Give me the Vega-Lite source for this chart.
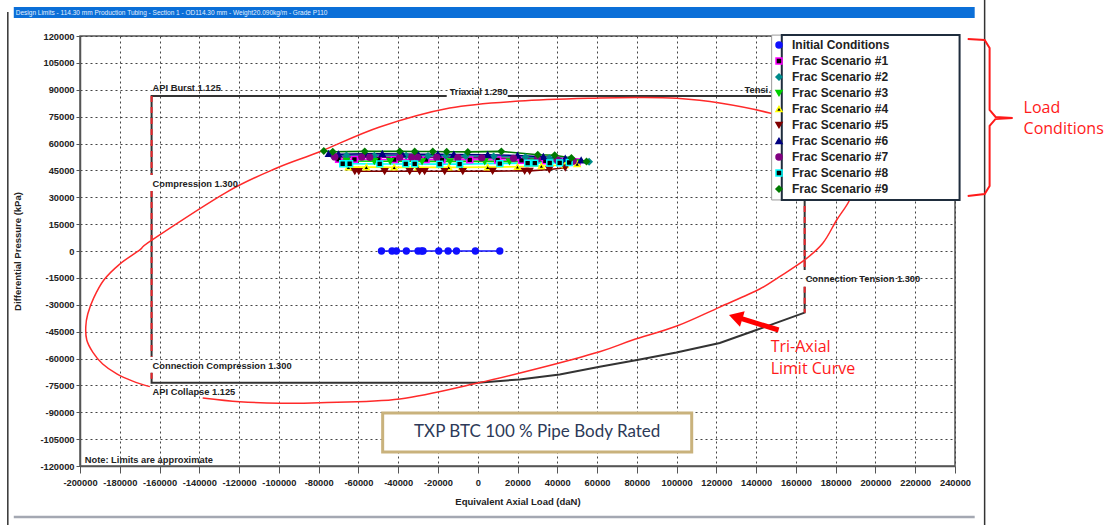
{
"$schema": "https://vega.github.io/schema/vega-lite/v6.json",
"width": 875, "height": 430,
"autosize": {"type": "none"},
"padding": {"left": 80, "top": 36, "right": 160, "bottom": 59},
"background": "white",
"config": {
  "view": {"stroke": "#555555", "strokeWidth": 1.5},
  "axis": {"labelFont": "Liberation Sans", "labelFontWeight": "bold", "labelFontSize": 9.3, "labelColor": "#222222",
           "titleFont": "Liberation Sans", "titleFontWeight": "bold", "titleFontSize": 9.5, "titleColor": "#222222",
           "gridColor": "#444444", "gridDash": [2, 3], "gridWidth": 1, "domainColor": "#555555", "domainWidth": 1.5, "tickColor": "#555555", "tickWidth": 1},
  "legend": {"labelFont": "Liberation Sans", "labelFontWeight": "bold", "labelFontSize": 12,
             "labelColor": "#222222", "labelOffset": 7, "rowPadding": 4, "symbolSize": 36, "symbolStrokeWidth": 1.5}
},
"datasets": {
  "pts": [
    {"s":"Initial Conditions","x":-48400,"y":0},{"s":"Initial Conditions","x":-43100,"y":0},{"s":"Initial Conditions","x":-40900,"y":0},{"s":"Initial Conditions","x":-35900,"y":0},{"s":"Initial Conditions","x":-30000,"y":0},{"s":"Initial Conditions","x":-28300,"y":0},{"s":"Initial Conditions","x":-27500,"y":0},{"s":"Initial Conditions","x":-19600,"y":0},{"s":"Initial Conditions","x":-14900,"y":0},{"s":"Initial Conditions","x":-10700,"y":0},{"s":"Initial Conditions","x":-1200,"y":0},{"s":"Initial Conditions","x":11100,"y":0},
    {"s":"Frac Scenario #1","x":-70000,"y":51200},{"s":"Frac Scenario #1","x":-62000,"y":51100},{"s":"Frac Scenario #1","x":-50000,"y":51100},{"s":"Frac Scenario #1","x":-42000,"y":51000},{"s":"Frac Scenario #1","x":-26000,"y":51000},{"s":"Frac Scenario #1","x":-18000,"y":50900},{"s":"Frac Scenario #1","x":-4000,"y":50900},{"s":"Frac Scenario #1","x":10000,"y":50800},{"s":"Frac Scenario #1","x":22000,"y":50600},{"s":"Frac Scenario #1","x":34000,"y":50300},{"s":"Frac Scenario #1","x":44000,"y":50000},{"s":"Frac Scenario #1","x":50000,"y":49700},
    {"s":"Frac Scenario #2","x":-73000,"y":53300},{"s":"Frac Scenario #2","x":-66000,"y":53300},{"s":"Frac Scenario #2","x":-52000,"y":53200},{"s":"Frac Scenario #2","x":-36000,"y":53200},{"s":"Frac Scenario #2","x":-25000,"y":53100},{"s":"Frac Scenario #2","x":-16000,"y":53100},{"s":"Frac Scenario #2","x":-6000,"y":53000},{"s":"Frac Scenario #2","x":8000,"y":52800},{"s":"Frac Scenario #2","x":24000,"y":52400},{"s":"Frac Scenario #2","x":36000,"y":51800},{"s":"Frac Scenario #2","x":46000,"y":51000},{"s":"Frac Scenario #2","x":56000,"y":49800},
    {"s":"Frac Scenario #3","x":-66000,"y":50200},{"s":"Frac Scenario #3","x":-52000,"y":50100},{"s":"Frac Scenario #3","x":-44000,"y":50100},{"s":"Frac Scenario #3","x":-28000,"y":50000},{"s":"Frac Scenario #3","x":-14000,"y":50000},{"s":"Frac Scenario #3","x":3500,"y":50000},{"s":"Frac Scenario #3","x":16000,"y":49900},{"s":"Frac Scenario #3","x":28000,"y":49800},{"s":"Frac Scenario #3","x":40000,"y":49600},{"s":"Frac Scenario #3","x":50000,"y":49400},
    {"s":"Frac Scenario #4","x":-65000,"y":46800},{"s":"Frac Scenario #4","x":-56000,"y":46800},{"s":"Frac Scenario #4","x":-42000,"y":46700},{"s":"Frac Scenario #4","x":-30000,"y":46700},{"s":"Frac Scenario #4","x":-14600,"y":46700},{"s":"Frac Scenario #4","x":-8000,"y":46700},{"s":"Frac Scenario #4","x":5000,"y":46800},{"s":"Frac Scenario #4","x":20000,"y":47000},{"s":"Frac Scenario #4","x":32000,"y":47400},{"s":"Frac Scenario #4","x":44000,"y":48000},{"s":"Frac Scenario #4","x":50000,"y":48600},
    {"s":"Frac Scenario #5","x":-61800,"y":44500},{"s":"Frac Scenario #5","x":-59800,"y":44500},{"s":"Frac Scenario #5","x":-46800,"y":44500},{"s":"Frac Scenario #5","x":-34200,"y":44500},{"s":"Frac Scenario #5","x":-29200,"y":44500},{"s":"Frac Scenario #5","x":-26700,"y":44500},{"s":"Frac Scenario #5","x":-16600,"y":44500},{"s":"Frac Scenario #5","x":-7500,"y":44500},{"s":"Frac Scenario #5","x":7500,"y":44600},{"s":"Frac Scenario #5","x":23600,"y":44700},{"s":"Frac Scenario #5","x":26100,"y":44700},{"s":"Frac Scenario #5","x":36000,"y":45500},{"s":"Frac Scenario #5","x":44000,"y":46500},
    {"s":"Frac Scenario #6","x":-74900,"y":54300},{"s":"Frac Scenario #6","x":-70000,"y":54000},{"s":"Frac Scenario #6","x":-57000,"y":54200},{"s":"Frac Scenario #6","x":-48000,"y":54200},{"s":"Frac Scenario #6","x":-38000,"y":54100},{"s":"Frac Scenario #6","x":-30000,"y":54000},{"s":"Frac Scenario #6","x":-20000,"y":54000},{"s":"Frac Scenario #6","x":-12000,"y":53900},{"s":"Frac Scenario #6","x":5000,"y":53700},{"s":"Frac Scenario #6","x":20000,"y":53300},{"s":"Frac Scenario #6","x":33000,"y":52600},{"s":"Frac Scenario #6","x":44000,"y":51600},{"s":"Frac Scenario #6","x":52000,"y":50600},
    {"s":"Frac Scenario #7","x":-71900,"y":52500},{"s":"Frac Scenario #7","x":-58300,"y":52400},{"s":"Frac Scenario #7","x":-54300,"y":52300},{"s":"Frac Scenario #7","x":-39200,"y":52300},{"s":"Frac Scenario #7","x":-33200,"y":52300},{"s":"Frac Scenario #7","x":-30200,"y":52200},{"s":"Frac Scenario #7","x":-20600,"y":52200},{"s":"Frac Scenario #7","x":-10000,"y":52100},{"s":"Frac Scenario #7","x":2000,"y":52000},{"s":"Frac Scenario #7","x":18000,"y":51700},{"s":"Frac Scenario #7","x":30000,"y":51300},{"s":"Frac Scenario #7","x":40000,"y":50800},{"s":"Frac Scenario #7","x":48000,"y":50200},
    {"s":"Frac Scenario #8","x":-67900,"y":48700},{"s":"Frac Scenario #8","x":-64400,"y":48700},{"s":"Frac Scenario #8","x":-49300,"y":48600},{"s":"Frac Scenario #8","x":-36200,"y":48600},{"s":"Frac Scenario #8","x":-31700,"y":48600},{"s":"Frac Scenario #8","x":-19100,"y":48500},{"s":"Frac Scenario #8","x":-9100,"y":48500},{"s":"Frac Scenario #8","x":11100,"y":48800},{"s":"Frac Scenario #8","x":25100,"y":49000},{"s":"Frac Scenario #8","x":28700,"y":49000},{"s":"Frac Scenario #8","x":36200,"y":49100},{"s":"Frac Scenario #8","x":41200,"y":49200},{"s":"Frac Scenario #8","x":46000,"y":49400},
    {"s":"Frac Scenario #9","x":-77400,"y":55800},{"s":"Frac Scenario #9","x":-72900,"y":55400},{"s":"Frac Scenario #9","x":-56800,"y":55600},{"s":"Frac Scenario #9","x":-39200,"y":55600},{"s":"Frac Scenario #9","x":-31700,"y":55500},{"s":"Frac Scenario #9","x":-22600,"y":55500},{"s":"Frac Scenario #9","x":-15600,"y":55400},{"s":"Frac Scenario #9","x":-5000,"y":55300},{"s":"Frac Scenario #9","x":11900,"y":55600},{"s":"Frac Scenario #9","x":30200,"y":53700},{"s":"Frac Scenario #9","x":38700,"y":53400},{"s":"Frac Scenario #9","x":47100,"y":51900},{"s":"Frac Scenario #9","x":54700,"y":50000}
  ],
  "bounds": [
    {"g":"A","o":1,"x":-164000,"y":42400},{"g":"A","o":2,"x":-164000,"y":86500},{"g":"A","o":3,"x":-15600,"y":86500},
    {"g":"B","o":1,"x":15100,"y":86500},{"g":"B","o":2,"x":164400,"y":86500},{"g":"B","o":3,"x":164400,"y":-10600},
    {"g":"C","o":1,"x":164400,"y":-19900},{"g":"C","o":2,"x":164400,"y":-34400},{"g":"C","o":3,"x":140100,"y":-44100},{"g":"C","o":4,"x":121700,"y":-51300},{"g":"C","o":5,"x":99900,"y":-56700},{"g":"C","o":6,"x":81500,"y":-60600},{"g":"C","o":7,"x":61300,"y":-64600},{"g":"C","o":8,"x":41200,"y":-68900},{"g":"C","o":9,"x":21100,"y":-71700},{"g":"C","o":10,"x":0,"y":-73500},{"g":"C","o":11,"x":-164000,"y":-73500},{"g":"C","o":12,"x":-164000,"y":-68000},
    {"g":"D","o":1,"x":-164000,"y":-59000},{"g":"D","o":2,"x":-164000,"y":33500}
  ],
  "dash": [
    {"g":"1","o":1,"x":-164000,"y":86500},{"g":"1","o":2,"x":-164000,"y":42400},
    {"g":"2","o":1,"x":-164000,"y":33500},{"g":"2","o":2,"x":-164000,"y":-59000},
    {"g":"3","o":1,"x":-164000,"y":-68000},{"g":"3","o":2,"x":-164000,"y":-73500},
    {"g":"4","o":1,"x":164400,"y":86500},{"g":"4","o":2,"x":164400,"y":-10600},
    {"g":"5","o":1,"x":164400,"y":-19900},{"g":"5","o":2,"x":164400,"y":-34400}
  ],
  "tri": [
    {"o":1,"x":-138300,"y":-82000},{"o":2,"x":-119700,"y":-84100},{"o":3,"x":-99600,"y":-85000},{"o":4,"x":-79400,"y":-84700},{"o":5,"x":-39200,"y":-82600},{"o":6,"x":0,"y":-73700},{"o":7,"x":31200,"y":-65300},{"o":8,"x":61300,"y":-56200},{"o":9,"x":77900,"y":-49700},{"o":10,"x":100100,"y":-41900},{"o":11,"x":121700,"y":-31300},{"o":12,"x":141800,"y":-21200},{"o":13,"x":151800,"y":-14300},{"o":14,"x":164400,"y":-5000},{"o":15,"x":173500,"y":4300},{"o":16,"x":180500,"y":17300},{"o":17,"x":187000,"y":28500},{"o":18,"x":189600,"y":39600},{"o":19,"x":184500,"y":50800},{"o":20,"x":174500,"y":61900},{"o":21,"x":161900,"y":70900},{"o":22,"x":146800,"y":77000},{"o":23,"x":121700,"y":82600},{"o":24,"x":100100,"y":85200},{"o":25,"x":81500,"y":85700},{"o":26,"x":61300,"y":85400},{"o":27,"x":21100,"y":83700},{"o":28,"x":-14100,"y":79800},{"o":29,"x":-49300,"y":69200},{"o":30,"x":-79400,"y":55400},{"o":31,"x":-101000,"y":46300},{"o":32,"x":-126200,"y":32900},{"o":33,"x":-163900,"y":6100},{"o":34,"x":-169900,"y":600},{"o":35,"x":-180000,"y":-7300},{"o":36,"x":-188000,"y":-16200},{"o":37,"x":-193100,"y":-26200},{"o":38,"x":-196100,"y":-35200},{"o":39,"x":-197100,"y":-42400},{"o":40,"x":-196600,"y":-49700},{"o":41,"x":-193600,"y":-56400},{"o":42,"x":-188600,"y":-63100},{"o":43,"x":-181500,"y":-68600},{"o":44,"x":-173500,"y":-72600},{"o":45,"x":-164900,"y":-75700}
  ],
  "labels": [
    {"t":"API Burst 1.125","x":-164000,"y":91000},
    {"t":"Triaxial 1.250","x":-14600,"y":88900},
    {"t":"Compression 1.300","x":-164000,"y":37400},
    {"t":"Connection Compression 1.300","x":-164000,"y":-64200},
    {"t":"API Collapse 1.125","x":-164000,"y":-78700},
    {"t":"Connection Tension 1.300","x":164400,"y":-15600},
    {"t":"Note: Limits are approximate","x":-198100,"y":-116400}
  ],
  "redlabels": [
    {"t":"Tri-Axial","x":147300,"y":-53600},
    {"t":"Limit Curve","x":147300,"y":-65900},
    {"t":"Load","x":274500,"y":79800},
    {"t":"Conditions","x":274500,"y":68100}
  ],
  "brace": [
    {"o":1,"x":246400,"y":118300},{"o":2,"x":254900,"y":117800},{"o":3,"x":257400,"y":113300},{"o":4,"x":257400,"y":78700},{"o":5,"x":260400,"y":74800},{"o":6,"x":269000,"y":74200},{"o":7,"x":260400,"y":73700},{"o":8,"x":257400,"y":69800},{"o":9,"x":257400,"y":36300},{"o":10,"x":254900,"y":31800},{"o":11,"x":246400,"y":30700}
  ]
},
"encoding": {
  "x": {"field": "x", "type": "quantitative",
        "scale": {"domain": [-200000, 240000], "nice": false, "zero": false},
        "axis": {"title": "Equivalent Axial Load (daN)", "values": [-200000,-180000,-160000,-140000,-120000,-100000,-80000,-60000,-40000,-20000,0,20000,40000,60000,80000,100000,120000,140000,160000,180000,200000,220000,240000],
                 "labelExpr": "'' + datum.value", "tickSize": 7, "labelPadding": 5, "titlePadding": 9, "labelFlush": false, "labelOverlap": false}},
  "y": {"field": "y", "type": "quantitative",
        "scale": {"domain": [-120000, 120000], "nice": false, "zero": false},
        "axis": {"title": "Differential Pressure (kPa)", "values": [-120000,-105000,-90000,-75000,-60000,-45000,-30000,-15000,0,15000,30000,45000,60000,75000,90000,105000,120000],
                 "labelExpr": "'' + datum.value", "tickSize": 4, "labelPadding": 2, "titlePadding": 17, "labelFlush": false, "labelOverlap": false}}
},
"layer": [
  {"data": {"values": [{"x": -236300, "y": 133400, "y2": -152900}, {"x": 254900, "y": 140100, "y2": -152900}]},
   "mark": {"type": "rule", "color": "#333333", "strokeWidth": 1.5, "clip": false},
   "encoding": {"y2": {"field": "y2"}}},
  {"data": {"values": [{"x": -233300, "x2": 249900, "y": -148500}]},
   "mark": {"type": "rule", "color": "#a4a8b2", "strokeWidth": 2.5, "clip": false},
   "encoding": {"x2": {"field": "x2"}}},
  {"data": {"values": [{"x": -233300, "x2": 249900, "y": 136200, "y2": 130000}]},
   "mark": {"type": "rect", "color": "#0b6fd8", "clip": false},
   "encoding": {"x2": {"field": "x2"}, "y2": {"field": "y2"}}},
  {"data": {"values": [{"t": "Design Limits - 114.30 mm Production Tubing - Section 1 - OD114.30 mm - Weight20.090kg/m - Grade P110", "x": -232300, "y": 133100}]},
   "mark": {"type": "text", "align": "left", "baseline": "middle", "font": "Liberation Sans", "fontSize": 6.5, "color": "#e4efff", "clip": false},
   "encoding": {"text": {"field": "t"}}},
  {"data": {"name": "bounds"},
   "mark": {"type": "line", "color": "#333333", "strokeWidth": 2, "clip": false},
   "encoding": {"detail": {"field": "g"}, "order": {"field": "o"}}},
  {"data": {"name": "dash"},
   "mark": {"type": "line", "color": "#e8262b", "strokeWidth": 2, "strokeDash": [6, 5], "clip": false},
   "encoding": {"detail": {"field": "g"}, "order": {"field": "o"}}},
  {"data": {"name": "tri"},
   "mark": {"type": "line", "color": "#ff2a2a", "strokeWidth": 1.5, "interpolate": "cardinal", "clip": false},
   "encoding": {"order": {"field": "o"}}},
  {"data": {"name": "labels"},
   "mark": {"type": "text", "align": "left", "baseline": "middle", "dx": 1, "font": "Liberation Sans", "fontWeight": "bold", "fontSize": 9.3, "color": "#222222", "clip": false},
   "encoding": {"text": {"field": "t"}}},
  {"data": {"values": [{"t": "Tension 1.300", "x": 133700, "y": 89900}]},
   "mark": {"type": "text", "align": "left", "baseline": "middle", "dx": 1, "font": "Liberation Sans", "fontWeight": "bold", "fontSize": 9.3, "color": "#222222", "limit": 36, "ellipsis": "", "clip": false},
   "encoding": {"text": {"field": "t"}}},
  {"data": {"values": [{"x": -47800, "x2": 107600, "y": -90400, "y2": -112200}]},
   "mark": {"type": "rect", "fill": "white", "stroke": "#c9b27c", "strokeWidth": 3},
   "encoding": {"x2": {"field": "x2"}, "y2": {"field": "y2"}}},
  {"data": {"values": [{"t": "TXP BTC 100 % Pipe Body Rated", "x": 29900, "y": -101300}]},
   "mark": {"type": "text", "align": "center", "baseline": "middle", "font": "Lato", "fontSize": 17, "color": "#2d3a58"},
   "encoding": {"text": {"field": "t"}}},
  {"data": {"values": [{"x": 147800, "x2": 242300, "y": 120500, "y2": 28500}]},
   "mark": {"type": "rect", "fill": "white", "stroke": "#9a9a9a", "strokeWidth": 1, "clip": false},
   "encoding": {"x2": {"field": "x2"}, "y2": {"field": "y2"}}},
  {"data": {"values": [{"x": 152900, "x2": 242300, "y": 120500, "y2": 28500}]},
   "mark": {"type": "rect", "fill": "white", "stroke": "#1f2d3d", "strokeWidth": 2, "clip": false},
   "encoding": {"x2": {"field": "x2"}, "y2": {"field": "y2"}}},
  {"data": {"values": [{"o": 1, "x": 151300, "y": -44100}, {"o": 2, "x": 132700, "y": -37800}]},
   "mark": {"type": "line", "color": "#ff0000", "strokeWidth": 5, "clip": false},
   "encoding": {"order": {"field": "o"}}},
  {"data": {"values": [{"x": 129700, "y": -36800}]},
   "mark": {"type": "point", "shape": "triangle-left", "filled": true, "color": "#ff0000", "size": 260, "angle": 17, "opacity": 1, "clip": false},
   "encoding": {}},
  {"data": {"name": "redlabels"},
   "mark": {"type": "text", "align": "left", "baseline": "middle", "font": "Open Sans", "fontSize": 16, "color": "#ff1a1a", "clip": false},
   "encoding": {"text": {"field": "t"}}},
  {"data": {"name": "brace"},
   "mark": {"type": "line", "color": "#ff1a1a", "strokeWidth": 2, "clip": false},
   "encoding": {"order": {"field": "o"}}},
  {"data": {"name": "pts"},
   "mark": {"type": "line", "strokeWidth": 1.6},
   "encoding": {"color": {"field": "s", "type": "nominal", "legend": null,
     "scale": {"domain": ["Frac Scenario #9","Frac Scenario #8","Frac Scenario #7","Frac Scenario #6","Frac Scenario #5","Frac Scenario #4","Frac Scenario #3","Frac Scenario #2","Frac Scenario #1","Initial Conditions"],
               "range": ["#007a00","#00ffff","#800080","#000080","#800000","#ffff00","#00d000","#008b8b","#ff00ff","#1010ff"]}}}},
  {"data": {"name": "pts"},
   "mark": {"type": "point", "filled": true, "size": 34, "strokeWidth": 1.5, "opacity": 1},
   "encoding": {
     "fill": {"field": "s", "type": "nominal", "title": null,
       "legend": {"orient": "none", "legendX": 690, "legendY": 0, "zindex": 3, "padding": 3},
       "scale": {"domain": ["Initial Conditions","Frac Scenario #1","Frac Scenario #2","Frac Scenario #3","Frac Scenario #4","Frac Scenario #5","Frac Scenario #6","Frac Scenario #7","Frac Scenario #8","Frac Scenario #9"],
                 "range": ["#1010ff","#000000","#008b8b","#00d000","#000000","#800000","#000080","#800080","#000000","#007a00"]}},
     "stroke": {"field": "s", "type": "nominal", "title": null,
       "legend": {"orient": "none", "legendX": 690, "legendY": 0, "zindex": 3, "padding": 3},
       "scale": {"domain": ["Initial Conditions","Frac Scenario #1","Frac Scenario #2","Frac Scenario #3","Frac Scenario #4","Frac Scenario #5","Frac Scenario #6","Frac Scenario #7","Frac Scenario #8","Frac Scenario #9"],
                 "range": ["#1010ff","#ff00ff","#008b8b","#00d000","#ffff00","#800000","#000080","#800080","#00ffff","#007a00"]}},
     "shape": {"field": "s", "type": "nominal", "title": null,
       "legend": {"orient": "none", "legendX": 690, "legendY": 0, "zindex": 3, "padding": 3},
       "scale": {"domain": ["Initial Conditions","Frac Scenario #1","Frac Scenario #2","Frac Scenario #3","Frac Scenario #4","Frac Scenario #5","Frac Scenario #6","Frac Scenario #7","Frac Scenario #8","Frac Scenario #9"],
                 "range": ["circle","square","diamond","triangle-down","triangle-up","triangle-down","triangle-up","circle","square","diamond"]}}}}
]
}
